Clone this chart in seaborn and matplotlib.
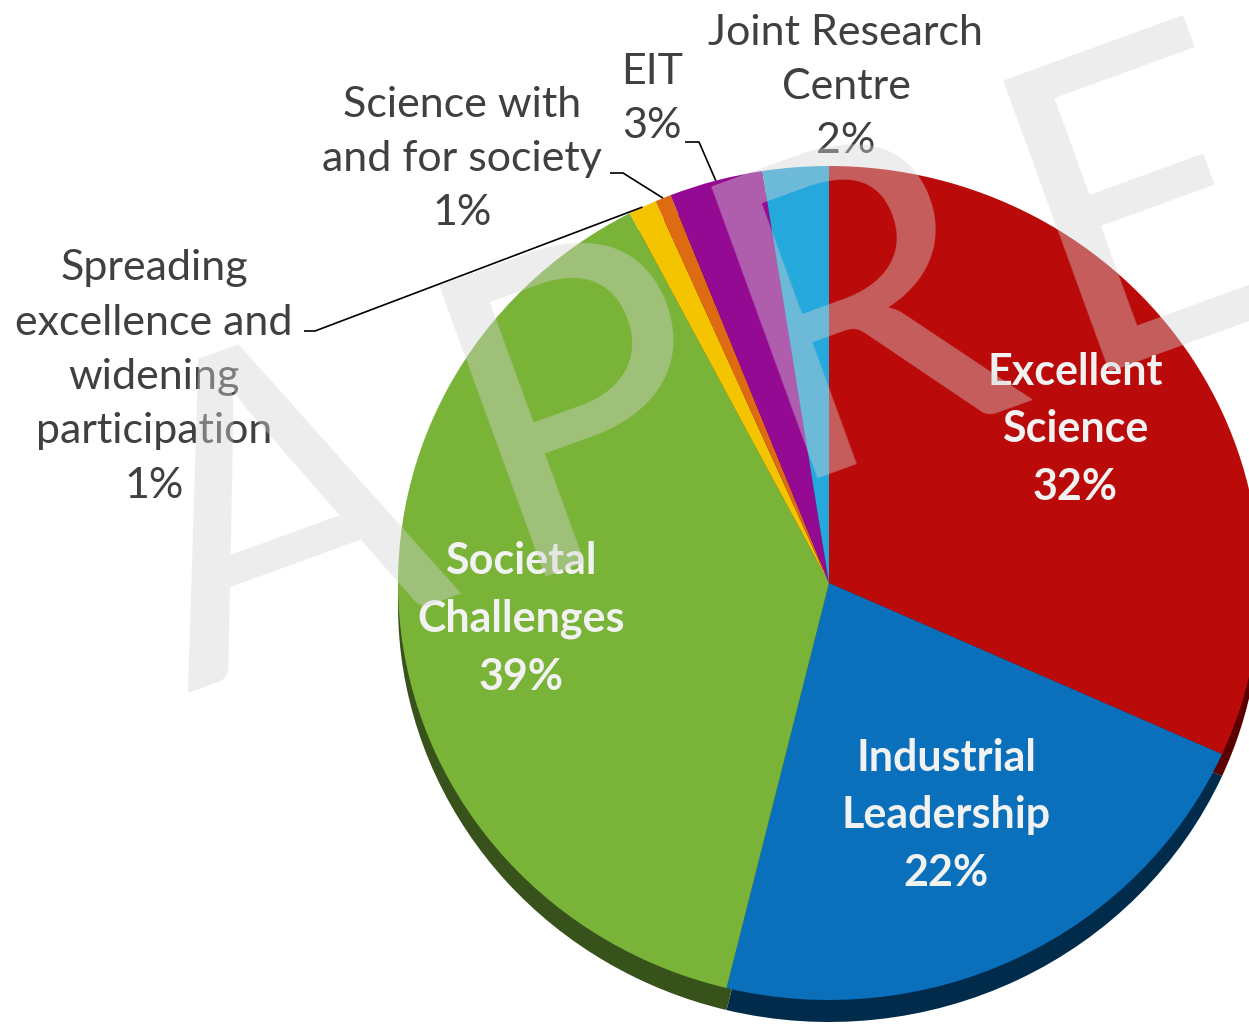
import numpy as np
import matplotlib
matplotlib.use("Agg")
import matplotlib.pyplot as plt
import seaborn as sns

# Horizon 2020 budget split (M EUR), clockwise from 12 o'clock
programmes = ["Excellent\nScience", "Industrial\nLeadership", "Societal\nChallenges",
              "Spreading\nexcellence and\nwidening\nparticipation",
              "Science with\nand for society", "EIT", "Joint Research\nCentre"]
budget = [24441, 17016, 29679, 816, 462, 2711, 1903]
pct_text = ["32%", "22%", "39%", "1%", "1%", "3%", "2%"]

top_colors = ["#bb0a0a", "#0a70bb", "#79b337", "#f5c400", "#de6b12", "#950a93", "#25a8dc"]
side_colors = ["#5a0000", "#002b4b", "#38521b", "#6e5800", "#6a3208", "#480447", "#10506a"]

W, H = 1249, 1024
CX, CY, RX, RY = 829, 583, 431, 417
DEPTH = 22


def px(x, y):
    """pixel position -> data coords of the pie axes"""
    return (x - CX) / RX, (CY - y) / RY


sns.set_theme(style="white")
plt.rcParams["font.family"] = ["Lato", "DejaVu Sans"]

fig = plt.figure(figsize=(W / 100, H / 100), dpi=100)
ax = fig.add_axes([0, 0, 1, 1])

# side of the 3d pie, then the top
ax.pie(budget, colors=sns.color_palette(side_colors), startangle=90, counterclock=False,
       center=(0, -DEPTH / RY), wedgeprops=dict(linewidth=0))
wedges, _ = ax.pie(budget, colors=sns.color_palette(top_colors), startangle=90,
                   counterclock=False, wedgeprops=dict(linewidth=0))
ax.set_aspect("auto")
ax.set_xlim(px(0, 0)[0], px(W, 0)[0])
ax.set_ylim(px(0, H)[1], px(0, 0)[1])
ax.axis("off")

mids = [np.deg2rad((w.theta1 + w.theta2) / 2) for w in wedges]

# labels inside the big slices
inner_dist = [0.68, 0.62, 0.72]
for i, d in enumerate(inner_dist):
    ax.text(d * np.cos(mids[i]), d * np.sin(mids[i]), programmes[i] + "\n" + pct_text[i],
            ha="center", va="center", multialignment="center", color="#f2f2f2",
            fontsize=31, fontweight="bold", linespacing=1.53, zorder=5)

# labels outside for the small slices
outer_pos = {3: (154, 377), 4: (462, 159), 5: (652, 99), 6: (846, 87)}
for i, (x, y) in outer_pos.items():
    ax.text(*px(x, y), programmes[i] + "\n" + pct_text[i], ha="center", va="center",
            multialignment="center", color="#404040", fontsize=31, linespacing=1.53, zorder=5)

# leader lines: text end -> elbow -> slice edge
leaders = {3: [(304, 331), (315, 331)], 4: [(610, 173), (623, 173)], 5: [(685, 142), (699, 142)]}
for i, pts in leaders.items():
    xs = [px(*p)[0] for p in pts] + [np.cos(mids[i])]
    ys = [px(*p)[1] for p in pts] + [np.sin(mids[i])]
    ax.plot(xs, ys, color="black", lw=1.2, zorder=4, solid_capstyle="butt")

# watermark, letters spread along a tilted baseline
ang = np.deg2rad(20)
for letter, off in zip("APRE", [0, 339, 628, 939]):
    x0 = 187 + off * np.cos(ang)
    y0 = 693 - off * np.sin(ang)
    ax.text(*px(x0, y0), letter, rotation=20, rotation_mode="anchor", ha="left", va="baseline",
            fontsize=312, color="#d4d4d4", alpha=0.42, zorder=10)

fig.savefig("out.png", dpi=100)
